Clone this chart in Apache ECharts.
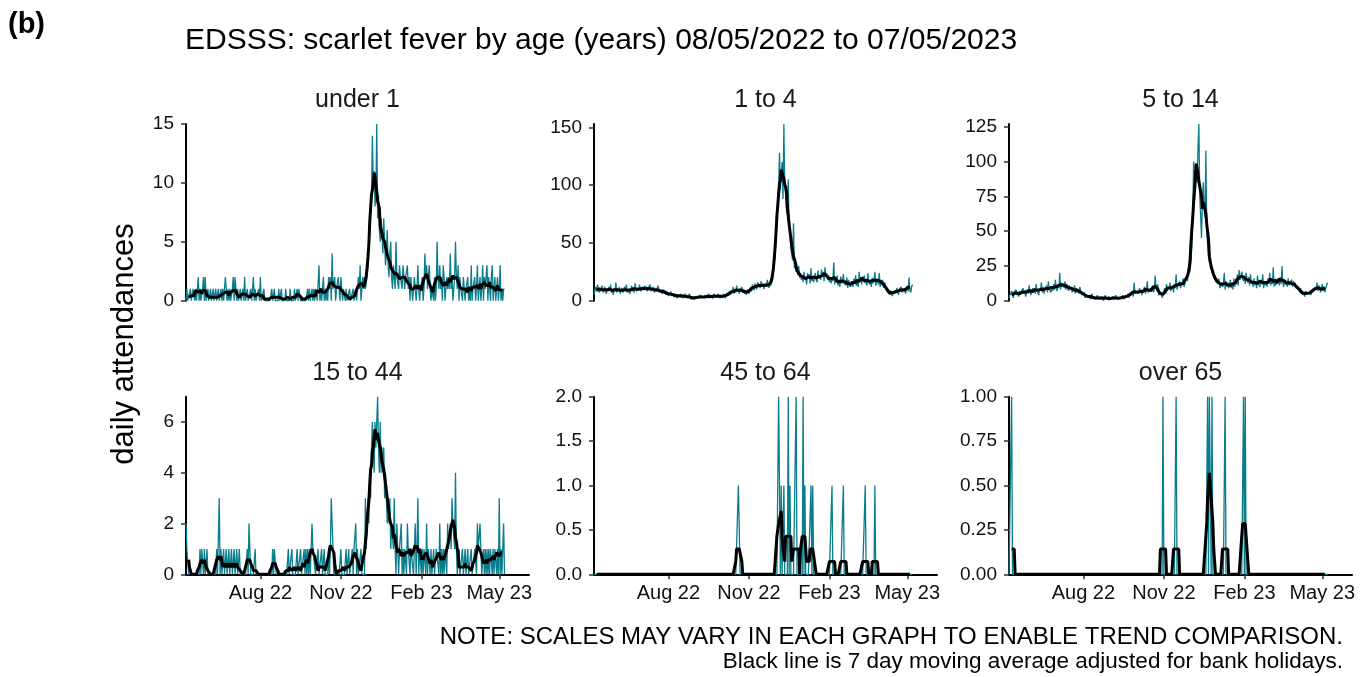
<!DOCTYPE html>
<html>
<head>
<meta charset="utf-8">
<script src="https://cdn.jsdelivr.net/npm/echarts@6/dist/echarts.min.js"></script>
<style>
html,body{margin:0;padding:0;background:#fff;}
#chart{width:1370px;height:677px;}
</style>
</head>
<body>
<div id="chart"></div>
<script>
// ---------------- DATA ----------------
const startDate = '2022-05-08';   // first day of the series (day 0)
const endAxisDate = '2023-06-04'; // right end of the x axis
const panelTitles = ['under 1', '1 to 4', '5 to 14', '15 to 44', '45 to 64', 'over 65'];
const xTickDates = ['2022-08-01', '2022-11-01', '2023-02-01', '2023-05-01'];
const xTickLabels = ['Aug 22', 'Nov 22', 'Feb 23', 'May 23'];
const yTickLabels = [
  ['0', '5', '10', '15'],
  ['0', '50', '100', '150'],
  ['0', '25', '50', '75', '100', '125'],
  ['0', '2', '4', '6'],
  ['0.0', '0.5', '1.0', '1.5', '2.0'],
  ['0.00', '0.25', '0.50', '0.75', '1.00']
];

// daily attendances, one value per day from 08/05/2022 (weeks of 7 per row)
const under1 = [
  0,1,0,0,0,1,0, 0,1,1,0,1,0,1, 2,0,1,0,0,1,2, 0,2,0,0,1,0,0,
  1,0,0,1,0,0,1, 0,0,1,0,0,1,0, 1,0,0,2,1,0,1, 0,1,0,0,1,2,0,
  2,1,0,1,0,0,1, 0,0,1,0,2,0,0, 1,0,0,0,1,0,0, 2,0,1,0,0,0,1,
  0,2,0,0,0,1,0, 0,0,0,0,0,0,0, 1,0,0,1,0,0,0, 0,1,0,0,1,0,0,
  0,0,1,0,0,0,0, 1,0,0,0,0,1,0, 0,1,0,1,1,0,0, 0,0,0,0,0,0,1,
  0,1,0,0,1,0,1, 0,1,1,0,0,3,0, 1,0,1,2,0,1,0, 1,0,2,1,2,0,4,
  1,1,2,0,1,1,2, 1,0,2,1,0,1,1, 0,1,0,0,0,1,0, 0,0,1,0,0,1,0,
  1,2,1,3,0,1,2, 1,2,1,1,2,3,5, 6,8,9,14,10,11,8, 9,15,7,9,6,5,7,
  6,4,7,5,3,4,6, 3,2,4,5,2,1,3, 2,1,5,2,2,1,3, 2,2,1,3,2,1,2,
  2,3,1,2,0,2,1, 0,1,2,1,0,1,3, 1,0,1,1,2,0,1, 4,2,3,1,2,3,1,
  0,1,1,0,2,0,1, 5,2,1,3,1,2,0, 3,2,0,1,2,1,2, 1,4,1,2,0,1,2,
  5,2,1,3,0,2,1, 1,0,2,1,0,1,1, 2,0,1,0,3,0,1, 1,2,0,1,3,0,1,
  2,0,1,3,0,2,1, 1,3,0,2,1,0,2, 3,0,1,2,0,1,2, 0,1,3,0,1,0,1,
  1
];
const age1to4 = [
  5,9,12,8,14,10,7, 11,8,13,9,7,12,10, 6,10,8,12,9,14,7, 9,5,11,8,16,7,10,
  8,12,6,9,11,7,10, 12,8,14,7,9,10,6, 9,13,8,11,7,15,10, 8,11,9,14,10,8,12,
  11,9,13,10,12,8,11, 10,14,8,11,9,12,7, 9,11,8,13,10,7,9, 8,6,10,7,9,5,8,
  6,4,7,5,8,4,6, 5,3,6,4,2,5,3, 4,6,3,5,2,4,6, 3,5,2,4,6,3,1,
  2,3,1,4,2,3,2, 3,4,2,5,3,2,4, 3,5,2,4,3,6,2, 4,3,5,2,6,4,3,
  5,3,6,4,2,5,4, 3,6,4,2,5,7,4, 6,8,5,9,7,12,6, 9,7,13,8,10,6,11,
  8,12,7,10,6,9,5, 7,10,6,9,12,8,14, 11,9,15,12,10,16,13, 14,11,17,12,15,10,13,
  15,12,18,14,11,16,13, 14,18,25,32,40,55,72, 85,100,128,96,110,120,88, 153,98,92,78,75,105,62,
  58,45,40,35,67,28,30, 25,28,22,30,20,24,18, 22,16,25,18,20,14,24, 19,23,15,28,17,21,16,
  20,24,18,16,26,19,22, 18,27,21,25,17,29,22, 24,18,22,16,20,15,19, 17,33,14,20,16,22,13,
  18,12,21,15,17,23,14, 16,13,20,11,18,15,12, 17,14,12,19,15,22,13, 16,12,25,18,20,14,21,
  17,22,15,19,13,24,16, 14,18,12,20,15,17,25, 13,16,19,14,24,12,17, 15,18,11,16,13,9,10,
  7,8,5,9,6,4,8, 6,9,7,11,8,5,10, 9,12,7,10,8,11,6, 10,13,8,20,9,7,12,
  14
];
const age5to14 = [
  2,4,3,7,5,2,6, 5,8,4,6,3,7,5, 4,6,9,5,7,3,6, 8,5,11,6,4,7,9,
  6,9,5,12,7,8,4, 9,7,13,6,10,5,8, 7,11,6,14,8,9,6, 10,7,12,8,15,9,7,
  11,9,20,8,13,10,12, 9,14,8,12,10,7,11, 8,10,6,9,7,11,5, 9,6,8,5,10,7,4,
  5,3,6,2,4,3,5, 2,4,1,3,5,2,1, 3,1,2,4,1,2,3, 1,3,2,0,2,4,1,
  2,1,3,2,1,0,2, 3,1,2,4,1,2,1, 2,3,1,2,4,1,3, 2,4,3,5,2,3,6,
  4,7,3,13,5,6,4, 7,5,9,6,8,4,7, 6,10,5,8,14,6,7, 5,9,7,11,6,8,18,
  10,7,12,4,5,3,6, 2,4,3,9,5,12,7, 10,8,13,7,9,11,6, 12,9,19,8,11,10,14,
  9,13,11,16,10,12,15, 18,14,24,20,22,28,40, 60,100,92,78,98,85,110, 127,75,62,45,70,85,65,
  60,108,50,40,32,28,30, 24,20,22,16,18,14,15, 14,12,16,9,11,13,10, 12,20,8,14,10,13,9,
  11,15,9,13,8,16,10, 14,12,19,11,22,15,17, 21,16,14,18,12,20,15, 13,17,11,19,12,14,10,
  16,11,14,9,18,12,13, 10,15,12,19,9,14,11, 13,10,16,12,20,11,14, 12,24,10,15,11,13,16,
  14,11,17,12,25,13,10, 15,12,14,10,16,11,13, 12,15,10,14,11,13,9, 11,8,10,6,9,5,7,
  4,6,3,7,5,4,6, 5,7,4,8,6,9,7, 10,8,13,7,11,9,6, 8,12,7,10,6,9,11,
  13
];
const age15to44 = [
  2,1,1,0,0,0,0, 0,0,0,0,0,0,0, 0,0,1,0,1,1,0, 1,0,0,1,0,0,0,
  0,0,0,0,0,0,0, 1,0,0,3,0,1,0, 0,1,0,0,1,0,0, 1,0,0,1,0,0,1,
  0,0,1,0,0,1,0, 0,0,0,0,0,0,0, 1,0,2,1,0,0,0, 0,0,1,0,0,0,0,
  0,0,0,0,0,0,0, 0,0,0,0,0,0,0, 0,1,0,1,1,0,0, 0,0,0,0,0,0,0,
  0,0,0,0,0,1,0, 0,0,1,0,0,0,0, 0,1,0,0,0,1,0, 0,0,1,0,1,0,1,
  0,1,0,1,2,1,1, 1,0,0,0,1,0,0, 0,1,0,0,1,0,0, 0,0,1,0,1,3,2,
  1,0,0,0,0,0,0, 0,0,1,0,0,0,0, 0,1,0,0,1,0,0, 0,1,0,1,1,2,0,
  1,0,0,0,1,0,0, 0,0,3,1,2,3,2, 4,3,5,6,6,4,6, 5,6,7,5,4,6,4,
  5,4,5,3,4,4,2, 3,2,3,1,2,2,1, 3,1,0,2,1,0,1, 1,2,0,1,0,1,1,
  0,2,1,1,0,1,1, 1,0,1,2,0,1,3, 0,1,1,0,1,0,1, 1,0,2,0,1,1,0,
  1,0,0,1,0,0,1, 1,1,0,2,0,1,0, 1,0,1,1,0,2,1, 1,2,1,3,2,2,1,
  4,1,0,0,1,0,0, 0,1,0,0,1,0,0, 1,0,0,0,1,0,0, 0,1,1,0,2,1,1,
  2,1,0,0,1,0,1, 0,1,0,1,0,1,1, 0,1,0,1,1,0,1, 0,3,0,1,0,0,2,
  0
];
// sparse panels: [day number from 08/05/2022, attendances]; all other days are 0
const age45to64Cases = [
  [165,1],[166,1],[211,2],[212,1],[214,1],[217,1],[222,2],[224,1],[231,2],
  [239,2],[241,1],[248,1],[250,1],[272,1],[285,1],[310,1],[321,1]
];
const over65Cases = [
  [3,1],[176,1],[191,1],[227,1],[229,1],[230,1],[232,1],[247,1],[268,1],[270,1]
];

// ---------------- BUILD ----------------
const FONT = '"Liberation Sans", Arial, sans-serif';
const TEAL = '#0a7d8d';
const DAY = 86400000;
const t0 = Date.parse(startDate + 'T00:00:00Z');
const dayOf = d => Math.round((Date.parse(d + 'T00:00:00Z') - t0) / DAY);
const nDays = under1.length;
const xMax = dayOf(endAxisDate);
const xTicks = xTickDates.map(dayOf);

function fromCases(cases, n) {
  const a = new Array(n).fill(0);
  cases.forEach(([d, v]) => { a[d] += v; });
  return a;
}
function movingAverage(a) {
  const out = [];
  for (let i = 3; i < a.length - 3; i++) {
    let s = 0;
    for (let k = i - 3; k <= i + 3; k++) s += a[k];
    out.push([i, s / 7]);
  }
  return out;
}

const dailySeries = [under1, age1to4, age5to14, age15to44,
  fromCases(age45to64Cases, nDays), fromCases(over65Cases, nDays)];

const colLeft = [186, 594, 1009];
const panelW = 343;
const rowTop = [124, 396.7];
const rowH = [176.7, 177.6];

const grid = [], xAxis = [], yAxis = [], series = [], graphic = [];

dailySeries.forEach((daily, i) => {
  const col = i % 3, row = Math.floor(i / 3);
  const bottomRow = row === 1;
  grid.push({ left: colLeft[col], top: rowTop[row], width: panelW, height: rowH[row] });

  xAxis.push({
    type: 'value', gridIndex: i, min: 0, max: xMax, show: bottomRow,
    axisLine: { show: true, onZero: false, lineStyle: { color: '#000', width: 2 } },
    axisTick: { show: true, length: 5, customValues: xTicks, lineStyle: { color: '#333', width: 1.5 } },
    axisLabel: {
      customValues: xTicks,
      formatter: v => { const k = xTicks.indexOf(Math.round(v)); return k >= 0 ? xTickLabels[k] : ''; },
      fontSize: 20, color: '#111', margin: 9, fontFamily: FONT
    },
    splitLine: { show: false }
  });

  const labels = yTickLabels[i];
  const tv = labels.map(Number);
  yAxis.push({
    type: 'value', gridIndex: i, min: 0, max: Math.max(...daily),
    axisLine: { show: true, lineStyle: { color: '#000', width: 2 } },
    axisTick: { show: true, length: 5, customValues: tv, lineStyle: { color: '#333', width: 1.5 } },
    axisLabel: {
      customValues: tv,
      formatter: v => { const k = tv.findIndex(t => Math.abs(t - v) < 1e-9); return k >= 0 ? labels[k] : ''; },
      fontSize: 19, color: '#111', margin: 12, fontFamily: FONT
    },
    splitLine: { show: false }
  });

  series.push({
    type: 'line', xAxisIndex: i, yAxisIndex: i,
    data: daily.map((v, d) => [d, v]),
    showSymbol: false, symbol: 'none', clip: false, silent: true, z: 2,
    lineStyle: { color: TEAL, width: 1.3 }
  });
  series.push({
    type: 'line', xAxisIndex: i, yAxisIndex: i,
    data: movingAverage(daily),
    showSymbol: false, symbol: 'none', clip: false, silent: true, z: 3,
    lineStyle: { color: '#000', width: 3 }
  });

  graphic.push({
    type: 'text', x: colLeft[col] + panelW / 2, y: row === 0 ? 100 : 373,
    style: { text: panelTitles[i], fontSize: 25, fontFamily: FONT, fill: '#1a1a1a',
      align: 'center', verticalAlign: 'middle' }
  });
});

graphic.push(
  { type: 'text', x: 8, y: 25, style: { text: '(b)', fontSize: 29, fontWeight: 'bold', fontFamily: FONT,
    fill: '#000', align: 'left', verticalAlign: 'middle' } },
  { type: 'text', x: 185, y: 41, style: { text: 'EDSSS: scarlet fever by age (years) 08/05/2022 to 07/05/2023',
    fontSize: 30, fontFamily: FONT, fill: '#000', align: 'left', verticalAlign: 'middle' } },
  { type: 'text', x: 124, y: 344, rotation: Math.PI / 2, style: { text: 'daily attendances',
    fontSize: 31, fontFamily: FONT, fill: '#000', align: 'center', verticalAlign: 'middle' } },
  { type: 'text', x: 1343, y: 637, style: { text: 'NOTE: SCALES MAY VARY IN EACH GRAPH TO ENABLE TREND COMPARISON.',
    fontSize: 24, fontFamily: FONT, fill: '#000', align: 'right', verticalAlign: 'middle' } },
  { type: 'text', x: 1343, y: 662, style: { text: 'Black line is 7 day moving average adjusted for bank holidays.',
    fontSize: 22.5, fontFamily: FONT, fill: '#000', align: 'right', verticalAlign: 'middle' } }
);

const chart = echarts.init(document.getElementById('chart'), null, { renderer: 'canvas' });
chart.setOption({
  backgroundColor: '#fff',
  animation: false,
  grid, xAxis, yAxis, series, graphic
});
</script>
</body>
</html>
